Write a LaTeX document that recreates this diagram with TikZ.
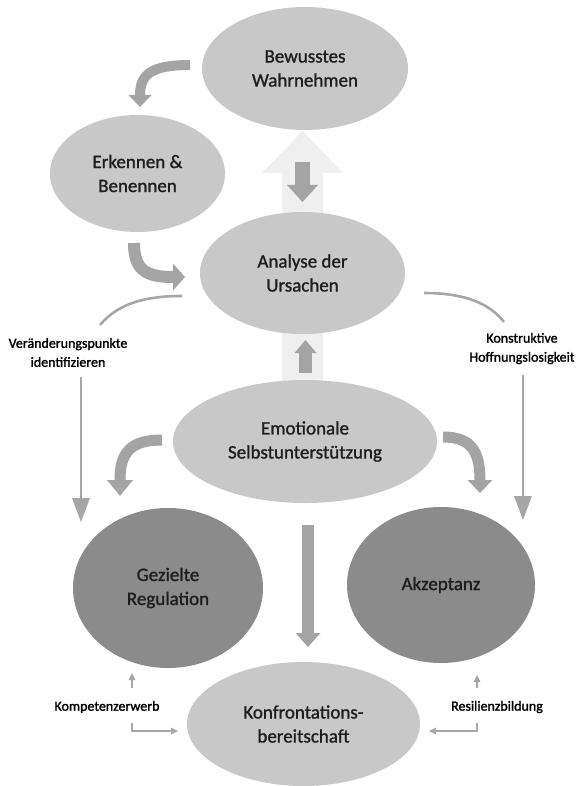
\documentclass[tikz,border=0pt]{standalone}
\usepackage{fontspec}
\setmainfont{Carlito}
\newfontfamily\stagefont{Carlito}[FakeBold=1.2]
\newfontfamily\notefont{Carlito}[FakeBold=1.5]
\usetikzlibrary{shapes.geometric,arrows.meta}

\definecolor{lightfill}{HTML}{C8C8C8}
\definecolor{darkfill}{HTML}{8B8B8B}
\definecolor{arrowgray}{HTML}{A4A4A4}
\definecolor{ghost}{HTML}{EFEFEF}
\definecolor{thingray}{HTML}{A6A6A6}
\definecolor{inktext}{HTML}{1E1E1E}

\begin{document}
\begin{tikzpicture}[x=1pt,y=-1pt,
  stage/.style={ellipse, fill=lightfill, inner sep=0pt, align=center,
    text=inktext, font=\stagefont\fontsize{19}{24}\selectfont},
  core/.style={stage, fill=darkfill},
  note/.style={align=center, text=black, inner sep=0pt,
    font=\notefont\fontsize{14}{19}\selectfont},
  blockarrow/.style n args={3}{draw=arrowgray, line width=#1,
    -{Triangle[width=#2, length=#3, line width=0pt]}},
  thinarrow/.style={draw=thingray, line width=2.6pt,
    -{Triangle[width=18pt, length=24pt, line width=0pt]}},
  thinline/.style={draw=thingray, line width=2.6pt},
  tinyarrow/.style={draw=thingray, line width=1.5pt,
    -{Triangle[width=7pt, length=7pt, line width=0pt]}},
]
% canvas
\fill[white] (0,0) rectangle (577,786);
\useasboundingbox (0,0) rectangle (577,786);

% pale background arrow running up through the central column
\fill[ghost] (282,400) -- (282,173) -- (262,173) -- (302.5,131)
  -- (343,173) -- (323,173) -- (323,400) -- cycle;

% stages
\node[stage, minimum width=206pt, minimum height=123pt] (bew) at (305,68.5)
  {Bewusstes\\Wahrnehmen};
\node[stage, minimum width=175pt, minimum height=117pt] (erk) at (137.5,173.5)
  {Erkennen \&\\Benennen};
\node[stage, minimum width=205pt, minimum height=122pt] (ana) at (302.5,273)
  {Analyse der\\Ursachen};
\node[stage, minimum width=264pt, minimum height=123pt] (emo) at (305,441.5)
  {Emotionale\\Selbstunterstützung};
\node[core, minimum width=190pt, minimum height=160pt] (gez) at (168,588)
  {Gezielte\\Regulation};
\node[core, minimum width=188pt, minimum height=156pt] (akz) at (441,585)
  {Akzeptanz};
\node[stage, minimum width=233pt, minimum height=124pt] (konf) at (303.5,724)
  {Konfrontations-\\bereitschaft};

% side labels
\node[note] (lver) at (68,352.5) {Veränderungspunkte\\identifizieren};
\node[note] (lkon) at (522,348.5) {Konstruktive\\Hoffnungslosigkeit};
\node[note] (lkomp) at (107,707) {Kompetenzerwerb};
\node[note] (lres) at (497,707) {Resilienzbildung};

% end points of the connectors
\coordinate (bwOut) at (190,65);    \coordinate (erkIn) at (140,107);
\coordinate (erkOut) at (134,243);  \coordinate (anaIn) at (185,277);
\coordinate (bwLow) at (302.5,162); \coordinate (anaTop) at (302.5,202);
\coordinate (emoTop) at (305.5,373);\coordinate (anaLow) at (305.5,340);
\coordinate (emoL) at (162,440);    \coordinate (gezIn) at (120,496);
\coordinate (emoR) at (443,437);    \coordinate (akzIn) at (480,493);
\coordinate (emoLow) at (308,525);  \coordinate (konfIn) at (308,647);
\coordinate (anaL) at (182,296);    \coordinate (verUp) at (100,325);
\coordinate (anaR) at (424,293);    \coordinate (konUp) at (504,322);
\coordinate (verDn) at (81,377);    \coordinate (gezSide) at (81,522);
\coordinate (konDn) at (523,375);   \coordinate (akzSide) at (523,520);
\coordinate (kompUp) at (132,688);  \coordinate (gezLow) at (132,673);
\coordinate (kompDn) at (132,723);  \coordinate (konfL) at (178,731);
\coordinate (resUp) at (477,688);   \coordinate (akzLow) at (477,675);
\coordinate (resDn) at (477,723);   \coordinate (konfR) at (429,731);

% block arrows
\draw[blockarrow={10pt}{23pt}{12pt}] (bwOut) .. controls (152,65) and (140,74) .. (erkIn);
\draw[blockarrow={12pt}{27pt}{12pt}] (erkOut) .. controls (134,270) and (146,277) .. (anaIn);
\draw[blockarrow={15pt}{31pt}{17pt}] (bwLow) -- (anaTop);
\draw[blockarrow={13pt}{22pt}{13pt}] (emoTop) -- (anaLow);
\draw[blockarrow={11pt}{26pt}{16pt}] (emoL) .. controls (131,440) and (120,452) .. (gezIn);
\draw[blockarrow={11pt}{25pt}{13pt}] (emoR) .. controls (470,437) and (480,450) .. (akzIn);
\draw[blockarrow={12pt}{25pt}{14pt}] (emoLow) -- (konfIn);

% thin connectors
\draw[thinline] (anaL) .. controls (140,296) and (116,306) .. (verUp);
\draw[thinline] (anaR) .. controls (466,293) and (490,304) .. (konUp);
\draw[thinarrow] (verDn) -- (gezSide);
\draw[thinarrow] (konDn) -- (akzSide);
\draw[tinyarrow] (kompUp) -- (gezLow);
\draw[tinyarrow] (kompDn) -- (132,731) -- (konfL);
\draw[tinyarrow] (resUp) -- (akzLow);
\draw[tinyarrow] (resDn) -- (477,731) -- (konfR);
\end{tikzpicture}
\end{document}
